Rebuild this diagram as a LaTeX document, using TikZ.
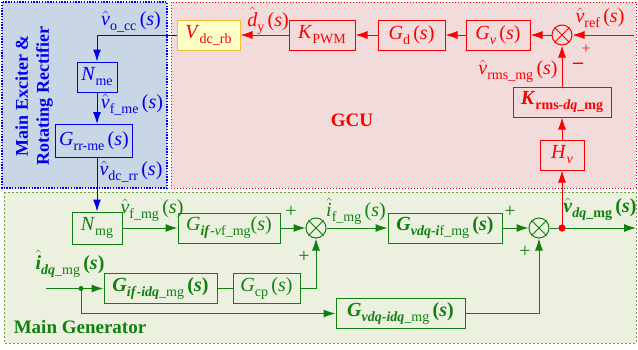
\documentclass[tikz,border=0pt]{standalone}
\usepackage{amsmath}
\usepackage{fontspec}
\setmainfont{Liberation Serif}
\usetikzlibrary{arrows.meta,calc}
\definecolor{bfill}{RGB}{200,214,230}
\definecolor{rfill}{RGB}{242,220,219}
\definecolor{gfill}{RGB}{235,241,222}
\definecolor{mblue}{RGB}{0,0,240}
\definecolor{mred}{RGB}{250,0,0}
\definecolor{mgreen}{RGB}{16,128,16}
\definecolor{gborder}{RGB}{110,160,70}
\definecolor{yfill}{RGB}{255,255,200}
\definecolor{yborder}{RGB}{245,190,50}
\newcommand\lo[1]{\raisebox{-0.25em}{\fontsize{14}{14}\selectfont #1}}
\newcommand\sarg{\,(\textit{s})}
\newcommand\bsarg{\,\textbf{(\textit{s})}}
\newcommand\hv[1]{$\hat{\text{#1}}$}
\begin{document}
\begin{tikzpicture}[x=1pt,y=-1pt,
  blk/.style={draw,line width=1pt,rectangle,inner sep=0pt,font=\fontsize{20}{22}\selectfont},
  lbl/.style={inner sep=0pt,font=\fontsize{20}{22}\selectfont},
  pls/.style={inner sep=0pt,font=\fontsize{20}{20}\selectfont},
  sumc/.style={draw,circle,line width=1pt,minimum size=20pt,inner sep=0pt},
  arr/.style={line width=1pt,-{Latex[length=12pt,width=8pt]}},
  ln/.style={line width=1pt}]
\useasboundingbox (0,0) rectangle (638,349);
% regions
\fill[bfill] (2,2) rectangle (167,188);
\draw[mblue,line width=1.4pt,dash pattern=on 1.4pt off 1.4pt] (2,2) rectangle (167,188);
\fill[rfill] (171,2) rectangle (636,188);
\draw[mred,line width=1pt,dash pattern=on 1pt off 2pt] (171,2) rectangle (636,188);
\fill[gfill] (4,192) rectangle (636,343);
\draw[gborder,line width=1pt,dash pattern=on 2pt off 2pt] (4,192) rectangle (636,343);

% blue part
\node[lbl,mblue,rotate=90,align=center,font=\fontsize{18}{21}\selectfont\bfseries] (title1) at (34,96) {Main Exciter \&\\Rotating Rectifier};
\node[blk,mblue,minimum width=40pt,minimum height=30pt] (Nme) at (97,77) {\textit{N}\lo{me}};
\node[blk,mblue,minimum width=77pt,minimum height=33pt] (Grr) at (94,141) {\textit{G}\lo{rr-me}\sarg};
\node[lbl,mblue] (lvocc) at (131,22) {\hv{\textit{v}}\lo{o\_cc}\sarg};
\node[lbl,mblue] (lvfme) at (132,105) {\hv{\textit{v}}\lo{f\_me}\sarg};
\node[lbl,mblue] (lvdcrr) at (131,172) {\hv{\textit{v}}\lo{dc\_rr}\sarg};

% red part
\node[blk,mred,fill=yfill,draw=yborder,minimum width=63pt,minimum height=30pt] (Vdc) at (208.5,35) {\textit{V}\lo{dc\_rb}};
\node[blk,mred,minimum width=66pt,minimum height=30pt] (Kpwm) at (322,35) {\textit{K}\lo{PWM}};
\node[blk,mred,minimum width=67pt,minimum height=30pt] (Gd) at (411.5,35) {\textit{G}\lo{d}\sarg};
\node[blk,mred,minimum width=64pt,minimum height=30pt] (Gv) at (498,35) {\textit{G}\lo{\textit{v}}\sarg};
\node[sumc,mred] (sumR) at (562,35) {};
\draw[mred,ln] (sumR.north west) -- (sumR.south east) (sumR.north east) -- (sumR.south west);
\node[blk,mred,minimum width=98pt,minimum height=30pt] (Krms) at (562,102) {\textbf{\textit{K}}\lo{\textbf{rms-\textit{dq}\_mg}}};
\node[blk,mred,minimum width=44pt,minimum height=30pt] (Hv) at (562,155) {\textit{H}\lo{\textit{v}}};
\coordinate (vrefin) at (634,35);
\node[lbl,mred] (ldy) at (268,21) {\hv{\textit{d}}\lo{y}\sarg};
\node[lbl,mred] (lvref) at (600,18) {\hv{\textit{v}}\lo{ref}\sarg};
\node[pls,mred,font=\fontsize{15}{15}\selectfont] (pref) at (586,49) {+};
\node[lbl,mred] (lvrms) at (518,71) {\hv{\textit{v}}\lo{rms\_mg}\sarg};
\node[lbl,mred,font=\fontsize{20}{20}\selectfont\bfseries] (mref) at (578,66) {–};
\node[lbl,mred,font=\fontsize{19}{19}\selectfont\bfseries] (gcu) at (352,120) {GCU};

% green part
\node[blk,mgreen,minimum width=50pt,minimum height=32pt] (Nmg) at (97,228) {\textit{N}\lo{mg}};
\node[blk,mgreen,minimum width=102pt,minimum height=30pt] (Gifvf) at (229,228) {\textit{G}\lo{\textbf{\textit{if}}-\textit{v}f\_mg}(\textit{s})};
\node[sumc,mgreen] (sum1) at (316,228) {};
\draw[mgreen,ln] (sum1.north west) -- (sum1.south east) (sum1.north east) -- (sum1.south west);
\node[blk,mgreen,minimum width=114pt,minimum height=30pt] (Gvdqif) at (445,228) {\textbf{\textit{G}}\lo{\textbf{\textit{vdq-i}}f\_mg}\bsarg};
\node[sumc,mgreen] (sum2) at (539,228) {};
\draw[mgreen,ln] (sum2.north west) -- (sum2.south east) (sum2.north east) -- (sum2.south west);
\node[blk,mgreen,minimum width=113pt,minimum height=30pt] (Gifidq) at (160.5,288.5) {\textbf{\textit{G}}\lo{\textbf{\textit{if}-\textit{idq}}\_mg}\bsarg};
\node[blk,mgreen,minimum width=67pt,minimum height=30pt] (Gcp) at (266.5,288.5) {\textit{G}\lo{cp}\sarg};
\node[blk,mgreen,minimum width=129pt,minimum height=30pt] (Gvdqidq) at (400.5,313.5) {\textbf{\textit{G}}\lo{\textbf{\textit{vdq-idq}}\_mg}\bsarg};
\coordinate (iin) at (46,288.5);
\node[circle,fill=mgreen,inner sep=0pt,minimum size=5pt] (gdot) at (81,288.5) {};
\node[circle,fill=mred,inner sep=0pt,minimum size=7pt] (rdot) at (562,228) {};
\coordinate (vout) at (636,228);
\node[lbl,mgreen] (lvfmg) at (152,210) {\hv{\textit{v}}\lo{f\_mg}\sarg};
\node[lbl,mgreen] (lifmg) at (356,211) {\hv{\textit{i}}\lo{f\_mg}\sarg};
\node[lbl,mgreen] (lvdq) at (600,209) {\hv{\textbf{\textit{v}}}\lo{\textbf{\textit{dq}\_mg}}\bsarg};
\node[lbl,mgreen] (lidq) at (70,264) {\hv{\textbf{\textit{i}}}\lo{\textbf{\textit{dq}}\_mg}\bsarg};
\node[pls,mgreen] (p1) at (291,212) {+};
\node[pls,mgreen] (p2) at (304,257) {+};
\node[pls,mgreen] (p3) at (510,212) {+};
\node[pls,mgreen] (p4) at (525,252) {+};
\node[lbl,mgreen,font=\fontsize{19}{21}\selectfont\bfseries] (mg) at (80,327) {Main Generator};

% blue connectors
\draw[mblue,arr] (Vdc.west) -| (Nme.north);
\draw[mblue,arr] (Nme.south) -- (Nme.south |- Grr.north);
\draw[mblue,arr] (Nme.south |- Grr.south) -- (Nmg.north);

% red connectors
\draw[mred,arr] (Kpwm.west) -- (Vdc.east);
\draw[mred,arr] (Gd.west) -- (Kpwm.east);
\draw[mred,arr] (Gv.west) -- (Gd.east);
\draw[mred,arr] (sumR.west) -- (Gv.east);
\draw[mred,arr] (vrefin) -- (sumR.east);
\draw[mred,arr] (Krms.north) -- (sumR.south);
\draw[mred,arr] (Hv.north) -- (Krms.south);
\draw[mred,arr] (rdot.center) -- (Hv.south);

% green connectors
\draw[mgreen,arr] (Nmg.east) -- (Gifvf.west);
\draw[mgreen,arr] (Gifvf.east) -- (sum1.west);
\draw[mgreen,arr] (sum1.east) -- (Gvdqif.west);
\draw[mgreen,arr] (Gvdqif.east) -- (sum2.west);
\draw[mgreen,ln] (sum2.east) -- (rdot.west);
\draw[mgreen,arr] (rdot.east) -- (vout);
\draw[mgreen,ln] (iin) -- (gdot.center);
\draw[mgreen,arr] (gdot.center) -- (Gifidq.west);
\draw[mgreen,ln] (Gifidq.east) -- (Gcp.west);
\draw[mgreen,arr] (Gcp.east) -| (sum1.south);
\draw[mgreen,arr] (gdot.center) |- (Gvdqidq.west);
\draw[mgreen,arr] (Gvdqidq.east) -| (sum2.south);
\node[circle,fill=mred,inner sep=0pt,minimum size=7pt] at (rdot) {};
\end{tikzpicture}
\end{document}
